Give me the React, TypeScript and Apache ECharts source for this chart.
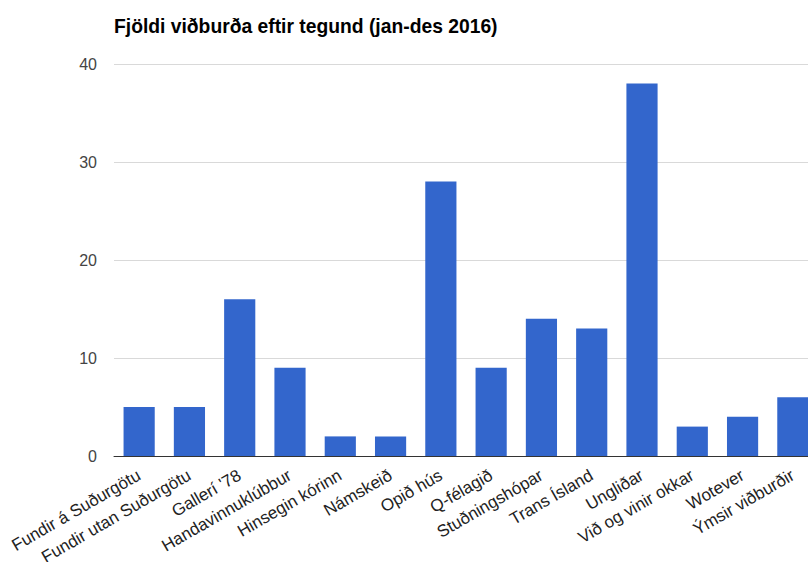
import React, { useEffect, useRef } from "react";
import * as echarts from "echarts";

const categories = [
  "Fundir á Suðurgötu",
  "Fundir utan Suðurgötu",
  "Gallerí '78",
  "Handavinnuklúbbur",
  "Hinsegin kórinn",
  "Námskeið",
  "Opið hús",
  "Q-félagið",
  "Stuðningshópar",
  "Trans Ísland",
  "Ungliðar",
  "Við og vinir okkar",
  "Wotever",
  "Ýmsir viðburðir",
];
const values = [5, 5, 16, 9, 2, 2, 28, 9, 14, 13, 38, 3, 4, 6];
const title = "Fjöldi viðburða eftir tegund (jan-des 2016)";

export default function App() {
  const ref = useRef<HTMLDivElement>(null);
  useEffect(() => {
    if (!ref.current) return;
    const chart = echarts.init(ref.current, null, { renderer: "svg" });
    chart.setOption({
      animation: false,
      backgroundColor: "#ffffff",
      title: {
        text: title,
        left: 109,
        top: 12,
        textStyle: {
          fontFamily: "Liberation Sans, Arial, sans-serif",
          fontWeight: "bold",
          fontSize: 19.3,
          color: "#000",
        },
      },
      grid: {
        left: 114,
        right: 0,
        top: 64,
        bottom: 106,
        containLabel: false,
        outerBoundsMode: "none",
      },
      xAxis: {
        type: "category",
        data: categories,
        axisTick: { show: false },
        axisLine: { lineStyle: { color: "#333", width: 1 } },
        axisLabel: {
          rotate: 30,
          interval: 0,
          margin: 18,
          fontFamily: "Liberation Sans, Arial, sans-serif",
          fontSize: 17,
          color: "#222",
        },
      },
      yAxis: {
        type: "value",
        min: 0,
        max: 40,
        interval: 10,
        axisLine: { show: false },
        axisTick: { show: false },
        splitLine: { lineStyle: { color: "#d9d9d9" } },
        axisLabel: {
          margin: 17,
          fontFamily: "Liberation Sans, Arial, sans-serif",
          fontSize: 16,
          color: "#444",
        },
      },
      series: [
        {
          type: "bar",
          data: values,
          barCategoryGap: "38%",
          itemStyle: { color: "#3366cc" },
        },
      ],
    });
    return () => chart.dispose();
  }, []);
  return (
    <div style={{ width: 808, height: 562, position: "absolute", left: 0, top: 0, overflow: "hidden" }}>
      <div ref={ref} style={{ width: 818, height: 562 }} />
    </div>
  );
}
